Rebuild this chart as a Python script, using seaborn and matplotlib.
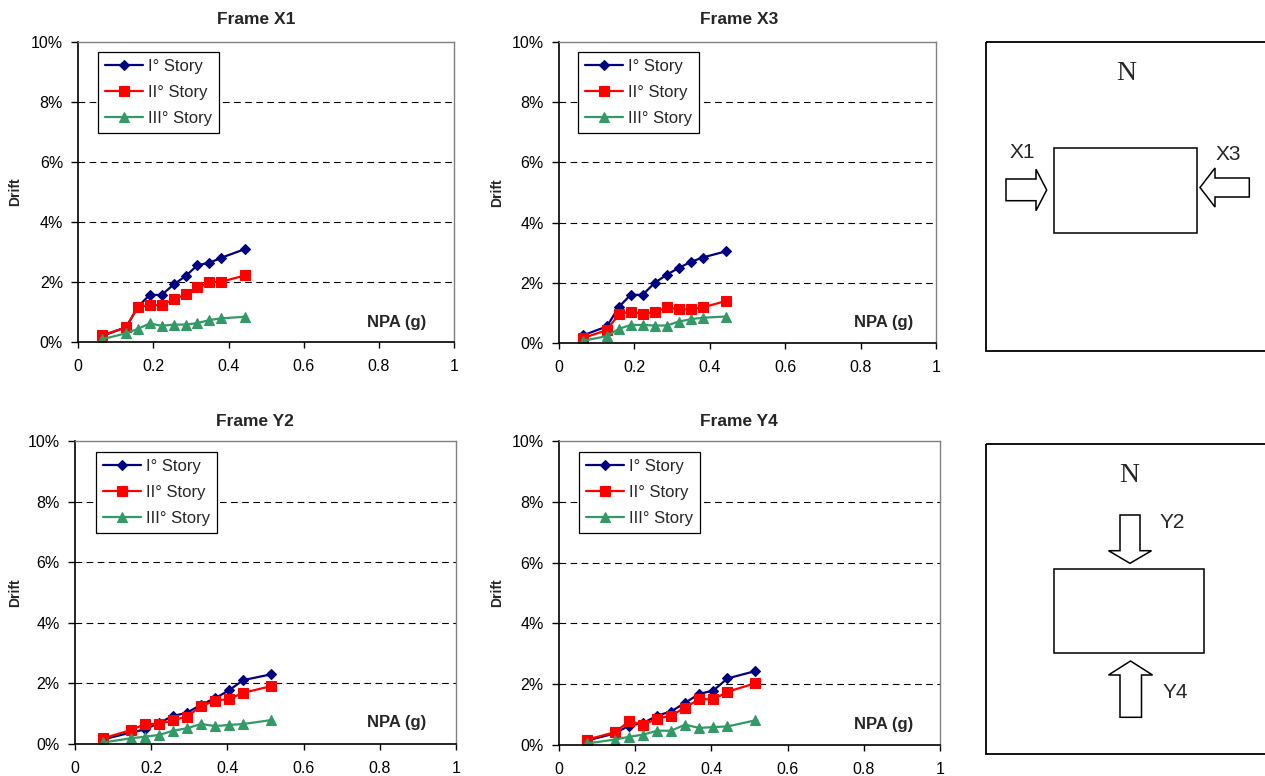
import matplotlib
matplotlib.use("Agg")
import matplotlib.pyplot as plt
import seaborn as sns
from matplotlib.patches import Rectangle, Polygon
from matplotlib.ticker import FuncFormatter, MultipleLocator

# Peak ground acceleration levels (g) used for the X-direction and Y-direction frames
npa_x = [0.063, 0.127, 0.159, 0.190, 0.222, 0.254, 0.286, 0.317, 0.349, 0.381, 0.444]
npa_y = [0.074, 0.147, 0.184, 0.221, 0.258, 0.294, 0.331, 0.368, 0.405, 0.442, 0.515]

story_labels = ["I° Story", "II° Story", "III° Story"]

# Inter-storey drift (%) per frame and storey
x1_story1 = [0.20, 0.49, 1.18, 1.57, 1.57, 1.92, 2.20, 2.56, 2.64, 2.81, 3.10]
x1_story2 = [0.22, 0.49, 1.17, 1.23, 1.23, 1.42, 1.59, 1.82, 1.99, 2.01, 2.22]
x1_story3 = [0.09, 0.29, 0.44, 0.62, 0.54, 0.58, 0.58, 0.63, 0.73, 0.79, 0.84]

x3_story1 = [0.25, 0.55, 1.20, 1.60, 1.60, 2.00, 2.27, 2.49, 2.69, 2.84, 3.05]
x3_story2 = [0.16, 0.43, 0.96, 1.04, 0.97, 1.02, 1.19, 1.12, 1.12, 1.18, 1.40]
x3_story3 = [0.07, 0.23, 0.47, 0.60, 0.60, 0.58, 0.58, 0.71, 0.79, 0.84, 0.88]

y2_story1 = [0.15, 0.38, 0.48, 0.70, 0.93, 1.03, 1.30, 1.51, 1.78, 2.11, 2.30]
y2_story2 = [0.19, 0.46, 0.66, 0.66, 0.79, 0.90, 1.25, 1.43, 1.49, 1.69, 1.91]
y2_story3 = [0.05, 0.19, 0.24, 0.30, 0.44, 0.52, 0.66, 0.59, 0.63, 0.66, 0.79]

y4_story1 = [0.15, 0.38, 0.64, 0.72, 0.97, 1.10, 1.39, 1.68, 1.79, 2.19, 2.43]
y4_story2 = [0.18, 0.42, 0.78, 0.67, 0.86, 0.97, 1.23, 1.51, 1.50, 1.75, 2.03]
y4_story3 = [0.05, 0.18, 0.27, 0.34, 0.47, 0.47, 0.67, 0.56, 0.59, 0.61, 0.81]

frame_titles = ["Frame X1", "Frame X3", "Frame Y2", "Frame Y4"]
y_ticks = [0, 2, 4, 6, 8, 10]

sns.set_theme(style="white")
plt.rcParams["font.family"] = ["Liberation Sans", "DejaVu Sans"]

W, H = 1265, 776
fig = plt.figure(figsize=(W / 100, H / 100), dpi=100)

colors = ["#000080", "#FF0000", "#339966"]
markers = ["D", "s", "^"]
msizes = [4.8, 7.5, 7.5]

# Pixel layout of each panel: plot box (left, right, top, bottom), title, y-label x, NPA label, legend corner
panels = [
    dict(title=frame_titles[0], npa=npa_x, series=[x1_story1, x1_story2, x1_story3],
         box=(78.3, 454, 42, 342), title_px=(256, 20), ylab_x=15, npa_px=(397, 322), leg_px=(97.7, 51.7)),
    dict(title=frame_titles[1], npa=npa_x, series=[x3_story1, x3_story2, x3_story3],
         box=(559, 936, 42, 343), title_px=(739, 20), ylab_x=497, npa_px=(884, 323), leg_px=(577.7, 51.7)),
    dict(title=frame_titles[2], npa=npa_y, series=[y2_story1, y2_story2, y2_story3],
         box=(75, 456, 441, 744), title_px=(255, 421), ylab_x=15, npa_px=(397, 723), leg_px=(95.7, 451.7)),
    dict(title=frame_titles[3], npa=npa_y, series=[y4_story1, y4_story2, y4_story3],
         box=(559, 940, 441, 745), title_px=(739, 421), ylab_x=497, npa_px=(884, 724), leg_px=(578.7, 452)),
]

for p in panels:
    l, r, t, b = p["box"]
    ax = fig.add_axes([l / W, 1 - b / H, (r - l) / W, (b - t) / H])

    def fx(px):
        return (px - l) / (r - l)

    def fy(py):
        return (b - py) / (b - t)

    for ytk in y_ticks[1:-1]:
        ax.axhline(ytk, color="black", lw=0.8, ls=(0, (6, 4)), zorder=0.5)

    for vals, lab, c, m, ms in zip(p["series"], story_labels, colors, markers, msizes):
        sns.lineplot(x=p["npa"], y=vals, ax=ax, color=c, marker=m, markersize=ms,
                     markeredgecolor=c, markeredgewidth=0.8, linewidth=1.6,
                     label=lab, errorbar=None, sort=False)

    ax.set_xlim(0, 1)
    ax.set_ylim(0, 10)
    ax.xaxis.set_major_locator(MultipleLocator(0.2))
    ax.yaxis.set_major_locator(MultipleLocator(2))
    ax.xaxis.set_major_formatter(FuncFormatter(lambda v, _: f"{v:g}"))
    ax.yaxis.set_major_formatter(FuncFormatter(lambda v, _: f"{v:.0f}%"))
    ax.tick_params(axis="y", direction="out", length=5, width=1, pad=6, left=True,
                   labelsize=11.5, colors="black")
    ax.tick_params(axis="x", direction="out", length=4, width=1, pad=8.5, bottom=True,
                   labelsize=11.5, colors="black")
    ax.set_xlabel("")
    ax.set_ylabel("")

    for side in ("top", "right"):
        ax.spines[side].set_color("#808080")
        ax.spines[side].set_linewidth(1.0)
    for side in ("left", "bottom"):
        ax.spines[side].set_color("black")
        ax.spines[side].set_linewidth(1.2)

    ax.text(fx(p["title_px"][0]), fy(p["title_px"][1]), p["title"], transform=ax.transAxes,
            ha="center", va="center", fontsize=12.5, fontweight="bold", clip_on=False)
    ax.text(fx(p["ylab_x"]), 0.5, "Drift", transform=ax.transAxes, rotation=90,
            ha="center", va="center", fontsize=10, fontweight="bold", clip_on=False)
    ax.text(fx(p["npa_px"][0]), fy(p["npa_px"][1]), "NPA (g)", transform=ax.transAxes,
            ha="center", va="center", fontsize=12, fontweight="bold")

    leg = ax.legend(loc="upper left", bbox_to_anchor=(fx(p["leg_px"][0]), fy(p["leg_px"][1])),
                    fontsize=12, frameon=True, fancybox=False, framealpha=1,
                    edgecolor="black", borderaxespad=0, borderpad=0.42,
                    handlelength=2.3, handletextpad=0.3, labelspacing=0.66)
    leg.get_frame().set_linewidth(0.9)

# Plan sketches of the building with the loading direction of each frame
axd = fig.add_axes([0, 0, 1, 1])
axd.set_xlim(0, W)
axd.set_ylim(H, 0)
axd.axis("off")

def box(x0, y0, x1, y1, lw):
    axd.add_patch(Rectangle((x0, y0), x1 - x0, y1 - y0, fill=False, ec="black", lw=lw))

def arrow(points):
    axd.add_patch(Polygon(points, closed=True, fc="white", ec="black", lw=1.1))

box(986, 41.7, 1280, 351, 1.3)
box(1054, 148.3, 1196.7, 232.7, 1.1)
axd.text(1126, 73, "N", family="Liberation Serif", fontsize=20, ha="center", va="center")
axd.text(1022, 153, "X1", fontsize=15, ha="center", va="center")
axd.text(1228, 154, "X3", fontsize=15, ha="center", va="center")
arrow([(1006, 179), (1036, 179), (1036, 169.3), (1046.7, 190), (1036, 210.7),
       (1036, 200.7), (1006, 200.7)])
arrow([(1249.3, 178), (1215, 178), (1215, 168), (1200, 187.5), (1215, 207),
       (1215, 197), (1249.3, 197)])

box(986, 444, 1280, 754, 1.3)
box(1054, 569.3, 1204, 653.3, 1.1)
axd.text(1129, 475, "N", family="Liberation Serif", fontsize=20, ha="center", va="center")
axd.text(1172, 523, "Y2", fontsize=15, ha="center", va="center")
axd.text(1175, 693, "Y4", fontsize=15, ha="center", va="center")
arrow([(1120, 515), (1140, 515), (1140, 550.7), (1151.5, 550.7), (1130, 563.3),
       (1108.5, 550.7), (1120, 550.7)])
arrow([(1120, 717.3), (1141.5, 717.3), (1141.5, 675), (1152.5, 675), (1130.5, 661),
       (1108.5, 675), (1120, 675)])

fig.savefig("out.png", dpi=100, facecolor="white")
